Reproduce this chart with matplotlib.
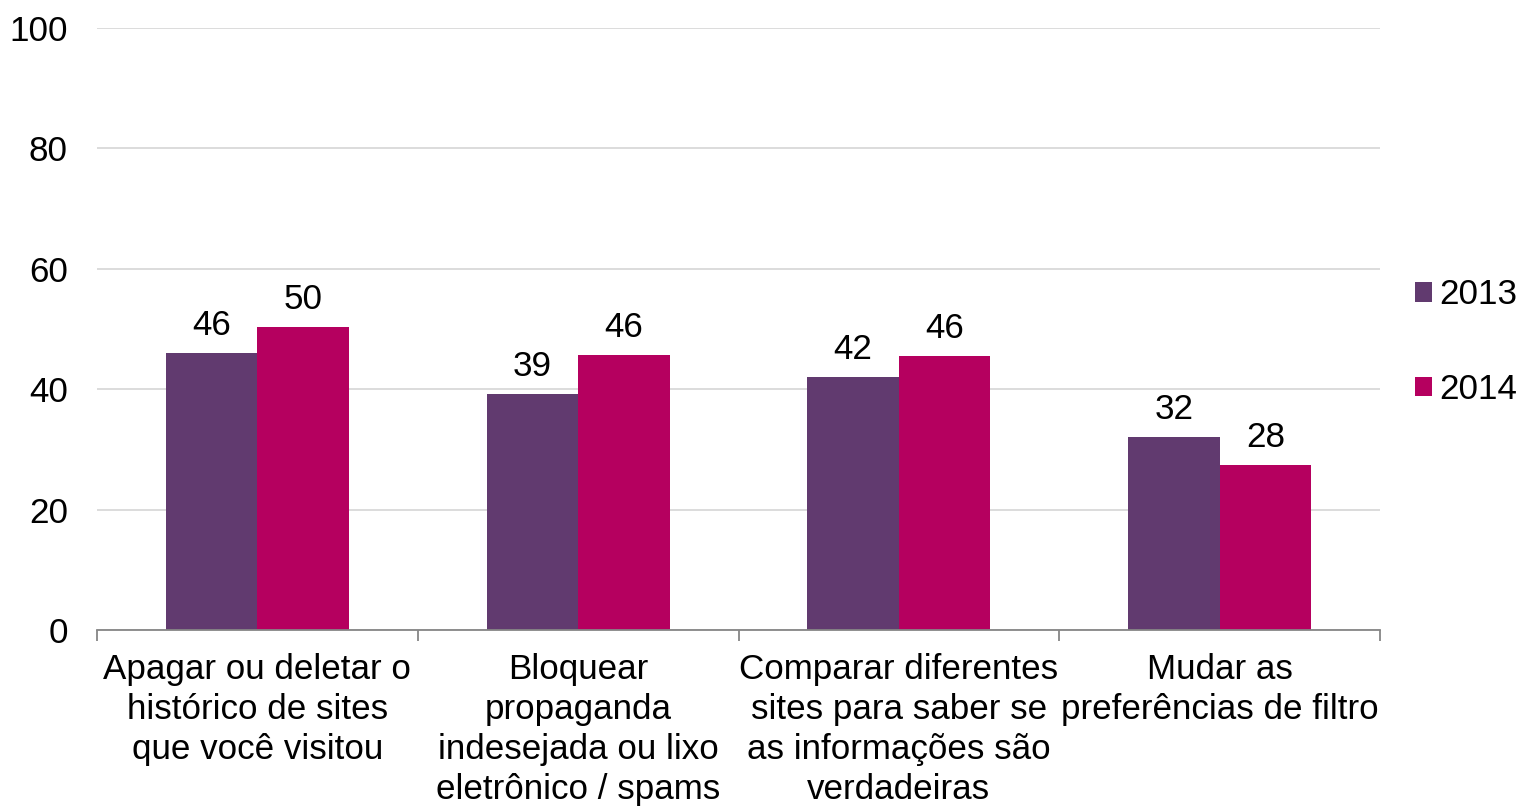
import matplotlib
matplotlib.use("Agg")
import matplotlib.pyplot as plt
import numpy as np

categories = [
    "Apagar ou deletar o\nhistórico de sites\nque você visitou",
    "Bloquear\npropaganda\nindesejada ou lixo\neletrônico / spams",
    "Comparar diferentes\nsites para saber se\nas informações são\nverdadeiras",
    "Mudar as\npreferências de filtro",
]
series_names = ["2013", "2014"]
values_2013 = [46.0, 39.2, 42.0, 32.1]
values_2014 = [50.3, 45.7, 45.5, 27.4]
labels_2013 = ["46", "39", "42", "32"]
labels_2014 = ["50", "46", "46", "28"]
yticks = [0, 20, 40, 60, 80, 100]

colors = ["#613a6f", "#b5005f"]
FS = 25.2

plt.rcParams['font.family'] = ['Liberation Sans', 'DejaVu Sans']

fig = plt.figure(figsize=(15.2, 8.07), dpi=100)
ax = fig.add_axes([97/1520, 177/807, (1380-97)/1520, (630-28)/807])

x = np.arange(len(categories))
w = 0.285
b1 = ax.bar(x - w/2, values_2013, w, color=colors[0], label=series_names[0], zorder=3)
b2 = ax.bar(x + w/2, values_2014, w, color=colors[1], label=series_names[1], zorder=3)

for bars, labs in ((b1, labels_2013), (b2, labels_2014)):
    for r, l in zip(bars, labs):
        ax.annotate(l, (r.get_x() + r.get_width()/2, r.get_height()),
                    xytext=(0, 8), textcoords="offset points",
                    ha="center", va="bottom", fontsize=FS)

ax.set_xlim(-0.5, len(categories) - 0.5)
ax.set_ylim(0, 100)
ax.set_yticks(yticks)
ax.set_yticklabels([str(t) for t in yticks], fontsize=FS)
ax.tick_params(axis='y', length=0, pad=21)
ax.yaxis.grid(True, color="#d9d9d9", linewidth=1.3, zorder=0)
ax.set_axisbelow(True)

ax.set_xticks(x)
ax.set_xticklabels(categories, fontsize=FS, linespacing=1.27, va="top")
ax.tick_params(axis='x', length=0, pad=16.5)
ax.set_xticks(np.arange(len(categories) + 1) - 0.5, minor=True)
ax.tick_params(axis='x', which='minor', length=8, color="#868686", width=1.3)

for s in ["top", "right", "left"]:
    ax.spines[s].set_visible(False)
ax.spines["bottom"].set_color("#868686")
ax.spines["bottom"].set_linewidth(1.3)
ax.spines["bottom"].set_zorder(4)

fig.legend(handles=[b1, b2], labels=series_names, loc="center left",
           bbox_to_anchor=(1415/1520, 1 - 342/807), frameon=False,
           fontsize=FS, handlelength=0.49, handleheight=0.49, handletextpad=0.2,
           labelspacing=1.76, borderaxespad=0, borderpad=0)

fig.savefig("out.png", dpi=100)
